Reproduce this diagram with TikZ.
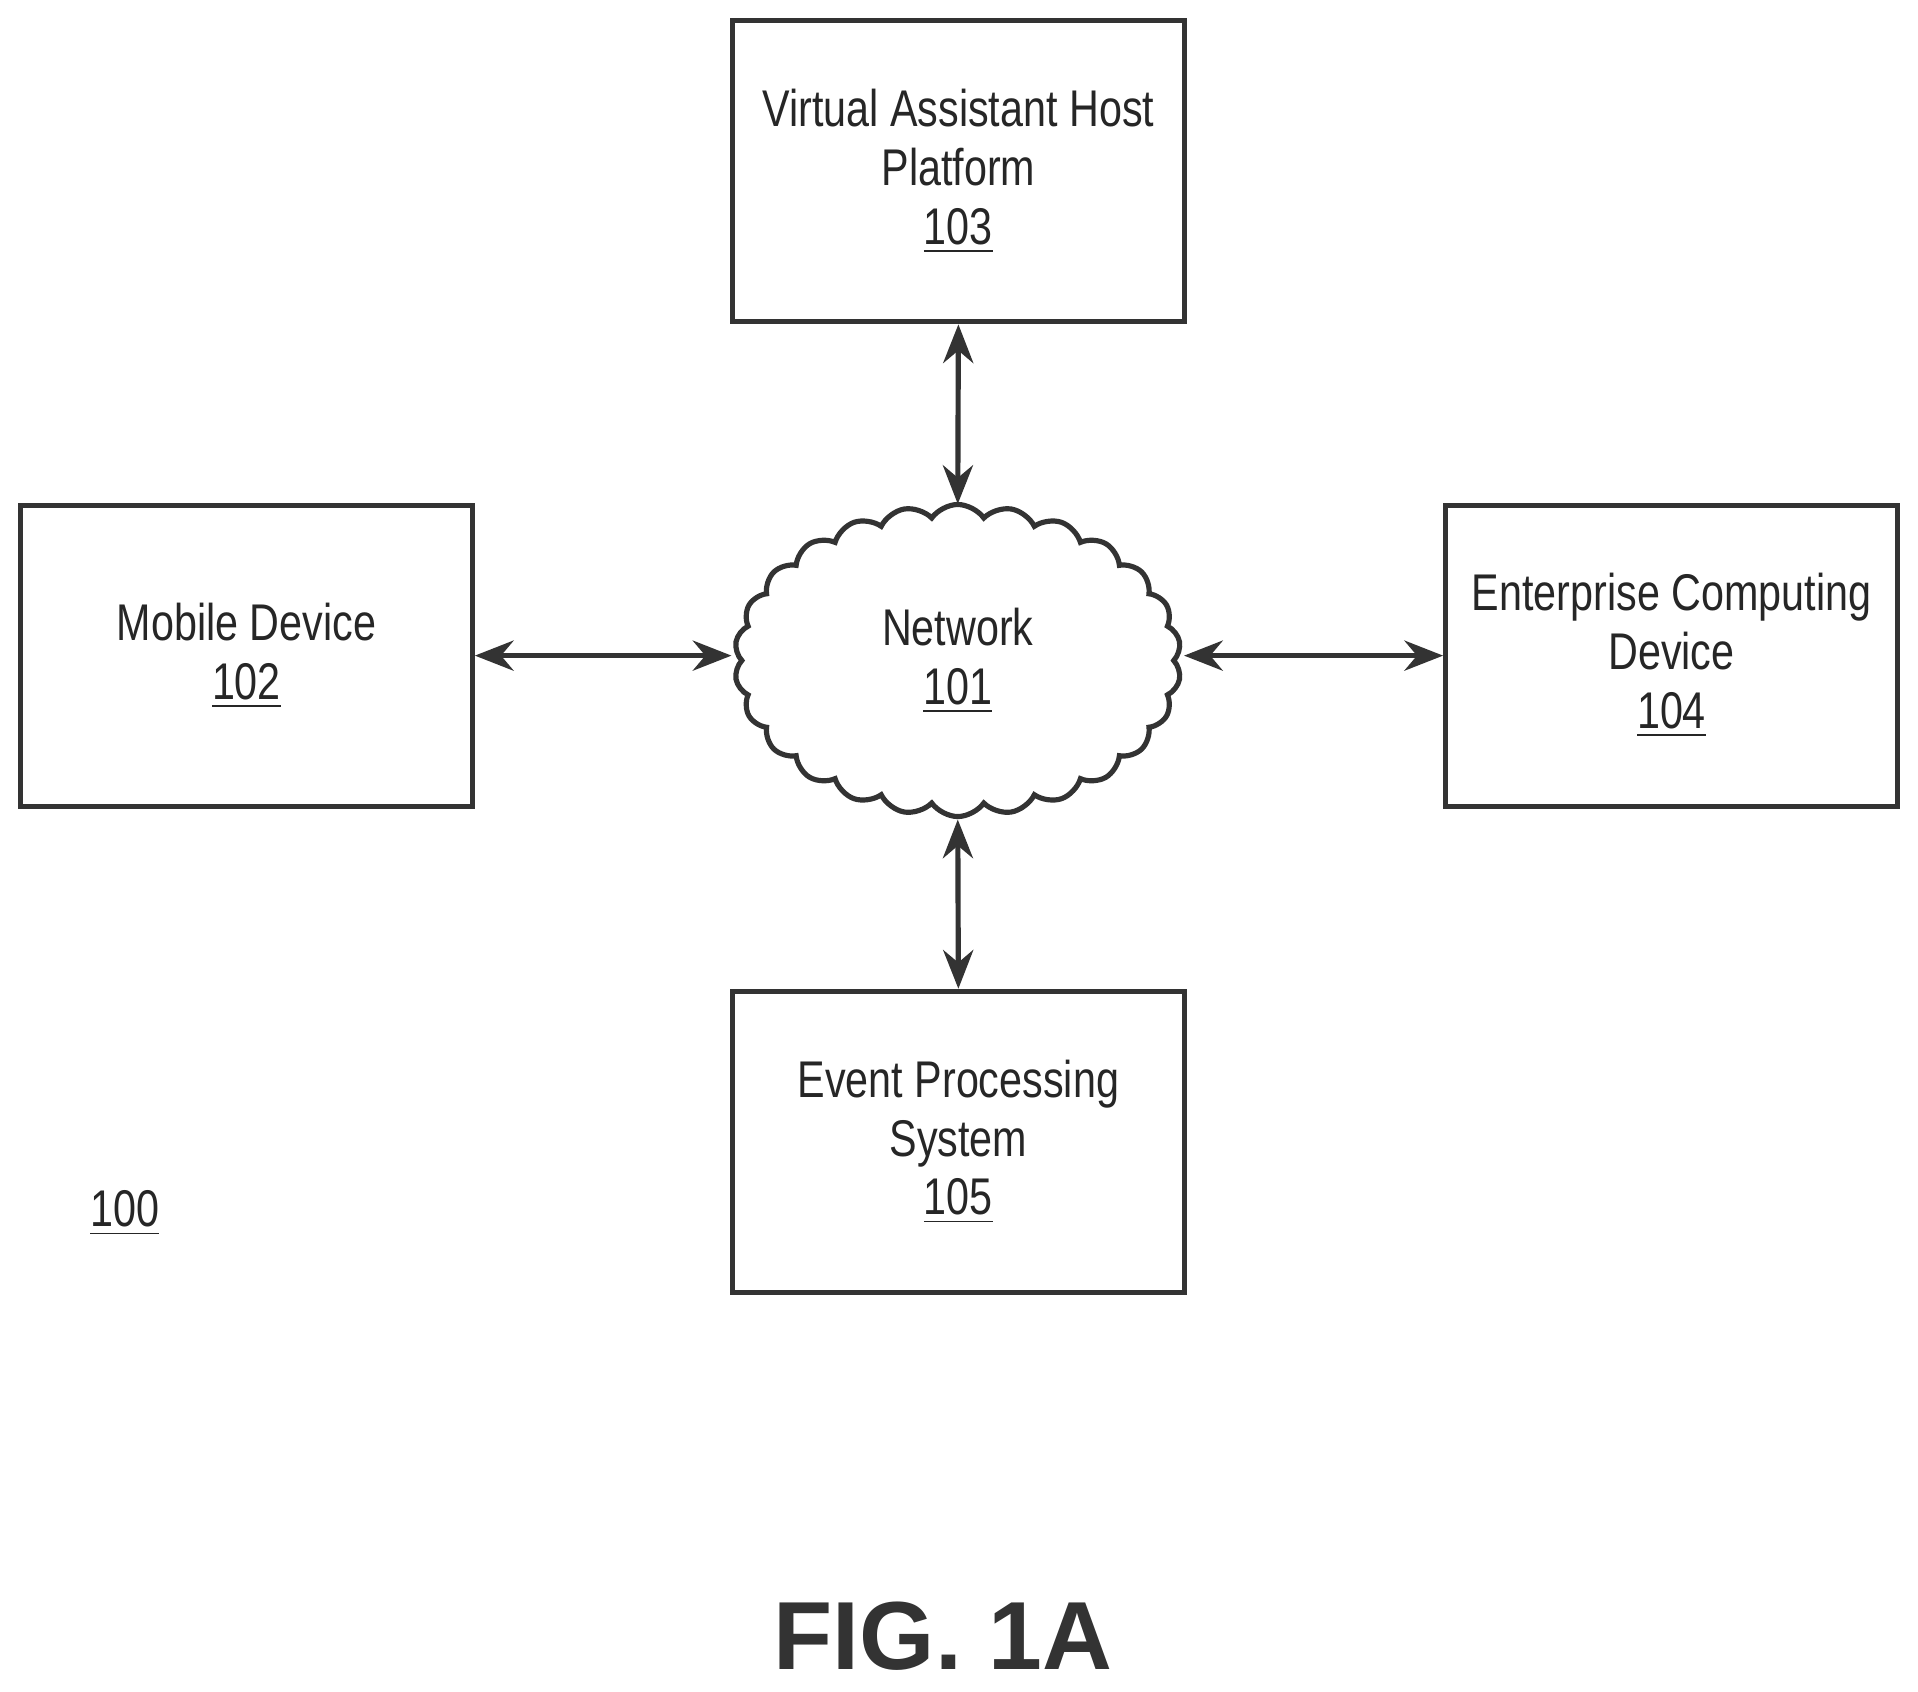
\documentclass[tikz,border=0pt]{standalone}
\usepackage{fontspec}
\setmainfont{Liberation Sans}[FakeStretch=0.8]
\newfontfamily\figfont{Liberation Sans}
\usetikzlibrary{shapes.symbols,arrows.meta}
\begin{document}
\begin{tikzpicture}[x=0.01cm,y=-0.01cm,
  box/.style={draw=black!80,line width=1.2pt,minimum width=3.69cm,minimum height=2.46cm,align=center,font=\fontsize{12}{13.7}\selectfont,text=black!85},
  arr/.style={draw=black!80,line width=1.2pt,{Stealth[length=9pt,width=7pt]}-{Stealth[length=9pt,width=7pt]}}]
\useasboundingbox (0,0) rectangle (1568,1383);
\node[box] (n103) at (783.5,140) {Virtual Assistant Host\\Platform\\\underline{103}};
\node[box] (n102) at (201.5,536) {Mobile Device\\\underline{102}};
\node[box] (n104) at (1366.5,536) {Enterprise Computing\\Device\\\underline{104}};
\node[box] (n105) at (783.5,933.5) {Event Processing\\System\\\underline{105}};
\node[cloud,draw=black!80,line width=1.2pt,cloud puffs=26,cloud puff arc=110,cloud ignores aspect,minimum width=3.65cm,minimum height=2.55cm,align=center,font=\fontsize{12}{13.7}\selectfont,text=black!85] (n101) at (783,540) {Network\\\underline{101}};
\node[font=\fontsize{12}{14}\selectfont,text=black!85] (n100) at (102,992) {\underline{100}};
\node[font=\figfont\bfseries\fontsize{22.5}{26}\selectfont,text=black!80] (fig) at (771,1338) {FIG. 1A};
\draw[arr] (n103.south) -- (783,412);
\draw[arr] (n105.north) -- (783,670);
\draw[arr] (n102.east) -- (598,536);
\draw[arr] (n104.west) -- (968,536);
\end{tikzpicture}
\end{document}
